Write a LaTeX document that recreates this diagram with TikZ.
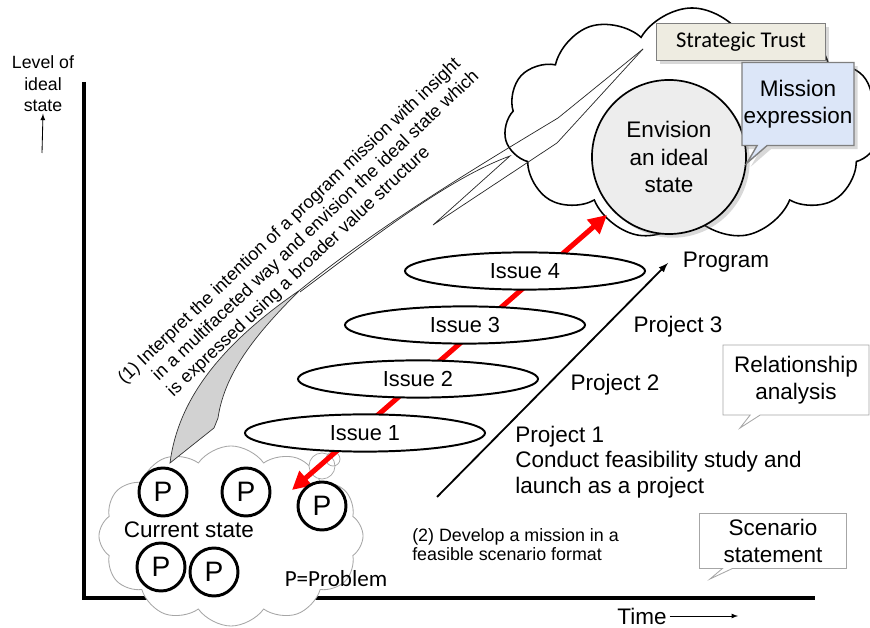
\documentclass[tikz,border=0pt]{standalone}
\usepackage{fontspec}
\setmainfont{Liberation Sans}
\newfontfamily\calibri{Carlito}
\usetikzlibrary{positioning}
\usetikzlibrary{arrows.meta}
\usetikzlibrary{shapes.geometric}
\usetikzlibrary{shapes.symbols}
\usetikzlibrary{shapes.callouts}
\usetikzlibrary{shadows}
\definecolor{Beige}{HTML}{EEECE1}
\definecolor{PaleBlue}{HTML}{DCE6F8}
\definecolor{BoxEdge}{HTML}{7F7F7F}

\begin{document}
\begin{tikzpicture}[x=0.025cm,y=-0.025cm,>=latex,
  txt/.style={font=\fontsize{16}{19.5}\selectfont, align=center, inner sep=0},
  issue/.style={ellipse, draw, line width=1.4pt, fill=white, minimum width=6cm,
    minimum height=0.93cm, inner sep=0, font=\fontsize{15.5}{18}\selectfont},
  prob/.style={circle, draw, line width=2.1pt, fill=white, minimum size=1.2cm,
    inner sep=0, font=\fontsize{20}{24}\selectfont},
  note/.style={rectangle callout, draw=gray!70, line width=0.6pt, fill=white,
    inner sep=0, font=\fontsize{16}{19.5}\selectfont, align=center}]
\useasboundingbox (0,0) rectangle (870,628);

% axes
\draw[line width=3.5pt] (84,82) -- (84,598) -- (815,598);
\node[font=\fontsize{12.6}{15.3}\selectfont, align=center, inner sep=1pt] (level) at (43,84) {Level of\\ideal\\state};
\coordinate (levelfoot) at (42,153);
\draw[->, line width=0.6pt] (levelfoot) -- (level.south);
\node[txt] (time) at (642,616) {Time};
\coordinate (timeend) at (738,616);
\draw[->, line width=0.6pt] ([xshift=2pt]time.east) -- (timeend);

% current state
\node[cloud, cloud puffs=12, cloud puff arc=110, aspect=1.5, draw=gray!70, line width=0.6pt,
  fill=white, minimum width=6.6cm, minimum height=4.5cm] (now) at (231,536) {};
\draw[gray!70, line width=0.5pt, fill=white] (322,466) circle (13);
\draw[gray!70, line width=0.5pt] (333,459) circle (7);

% ideal state
\node[cloud, cloud puffs=11, cloud puff arc=120, aspect=1.6, draw, line width=1.1pt,
  fill=white, minimum width=9.4cm, minimum height=5.8cm] (ideal) at (692,124) {};

% bent callout from the ideal state down to the current state
\fill[gray!35, draw=gray!40!black, line width=0.5pt] (170,463) .. controls (178,400) and (220,345) .. (300,290)
  .. controls (260,330) and (225,370) .. (218,418) -- (214,428) -- cycle;
\draw[gray!30!black, line width=0.5pt] (300,290) .. controls (380,225) and (480,165) .. (558,118) -- (643,49);
\draw[gray!30!black, line width=0.5pt] (300,292) .. controls (380,232) and (450,178) .. (510,156)
  -- (433,225) -- (557,143) -- (643,49);
\node[font=\fontsize{12.8}{15.2}\selectfont, align=left, rotate=43.5, anchor=west, inner sep=0] (interpret) at (136,397)
  {(1) Interpret the intention of a program mission with insight\\
   \phantom{(1) }in a multifaceted way and envision the ideal state which\\
   \phantom{(1) }is expressed using a broader value structure};

% issues
\coordinate (redlo) at (292,490);
\coordinate (redhi) at (607,215);
\draw[red, line width=3.6pt, {Triangle[length=13pt,width=13pt]}-{Triangle[length=13pt,width=13pt]}] (redlo) -- (redhi);
\foreach \i/\x/\y in {1/365/433, 2/418/379, 3/465/325, 4/525/271}
  \node[issue] (issue\i) at (\x,\y) {Issue \i};

% program
\coordinate (projlo) at (437,497);
\coordinate (projhi) at (668,263);
\draw[->, line width=1.3pt] (projlo) -- (projhi);
\node[txt] (program) at (726,262) {Program};
\node[txt] (proj3) at (678,327) {Project 3};
\node[txt] (proj2) at (615,385) {Project 2};
\node[txt, align=left, anchor=north west, font=\fontsize{16}{18}\selectfont] (proj1) at (515,426) {Project 1\\Conduct feasibility study and\\launch as a project};
\node[font=\fontsize{12.7}{13.5}\selectfont, align=left, anchor=north west, inner sep=0] (develop) at (412,528)
  {(2) Develop a mission in a\\feasible scenario format};

\node[circle, draw, line width=1.2pt, fill=gray!14, minimum size=3.85cm, txt,
  drop shadow={opacity=0.3}] (envision) at (669,157) {Envision\\an ideal\\state};
\node[draw=BoxEdge, fill=Beige, line width=1pt, minimum width=4.225cm, minimum height=0.925cm,
  font=\calibri\fontsize{16}{19}\selectfont, drop shadow={opacity=0.3}] (trust) at (741,42) {Strategic Trust};
\node[rectangle callout, callout absolute pointer={(747,163)}, draw=BoxEdge, line width=1pt, fill=PaleBlue,
  minimum width=2.8cm, minimum height=2.075cm, txt, drop shadow={opacity=0.3}] (mission) at (798,104) {Mission\\expression};

\node[note, callout absolute pointer={(740,428)}, minimum width=3.65cm, minimum height=1.75cm] (relation) at (796,380) {Relationship\\analysis};
\node[note, callout absolute pointer={(710,579)}, minimum width=3.675cm, minimum height=1.375cm] (scenario) at (773,541) {Scenario\\statement};

\foreach \n/\x/\y in {1/163/492, 2/246/492, 3/322/506, 4/161/567, 5/214/572}
  \node[prob] (p\n) at (\x,\y) {P};
\node[txt] (current) at (189,530) {Current state};
\node[txt, font=\calibri\fontsize{16.4}{19}\selectfont] (legend) at (336,579) {P=Problem};
\end{tikzpicture}
\end{document}
